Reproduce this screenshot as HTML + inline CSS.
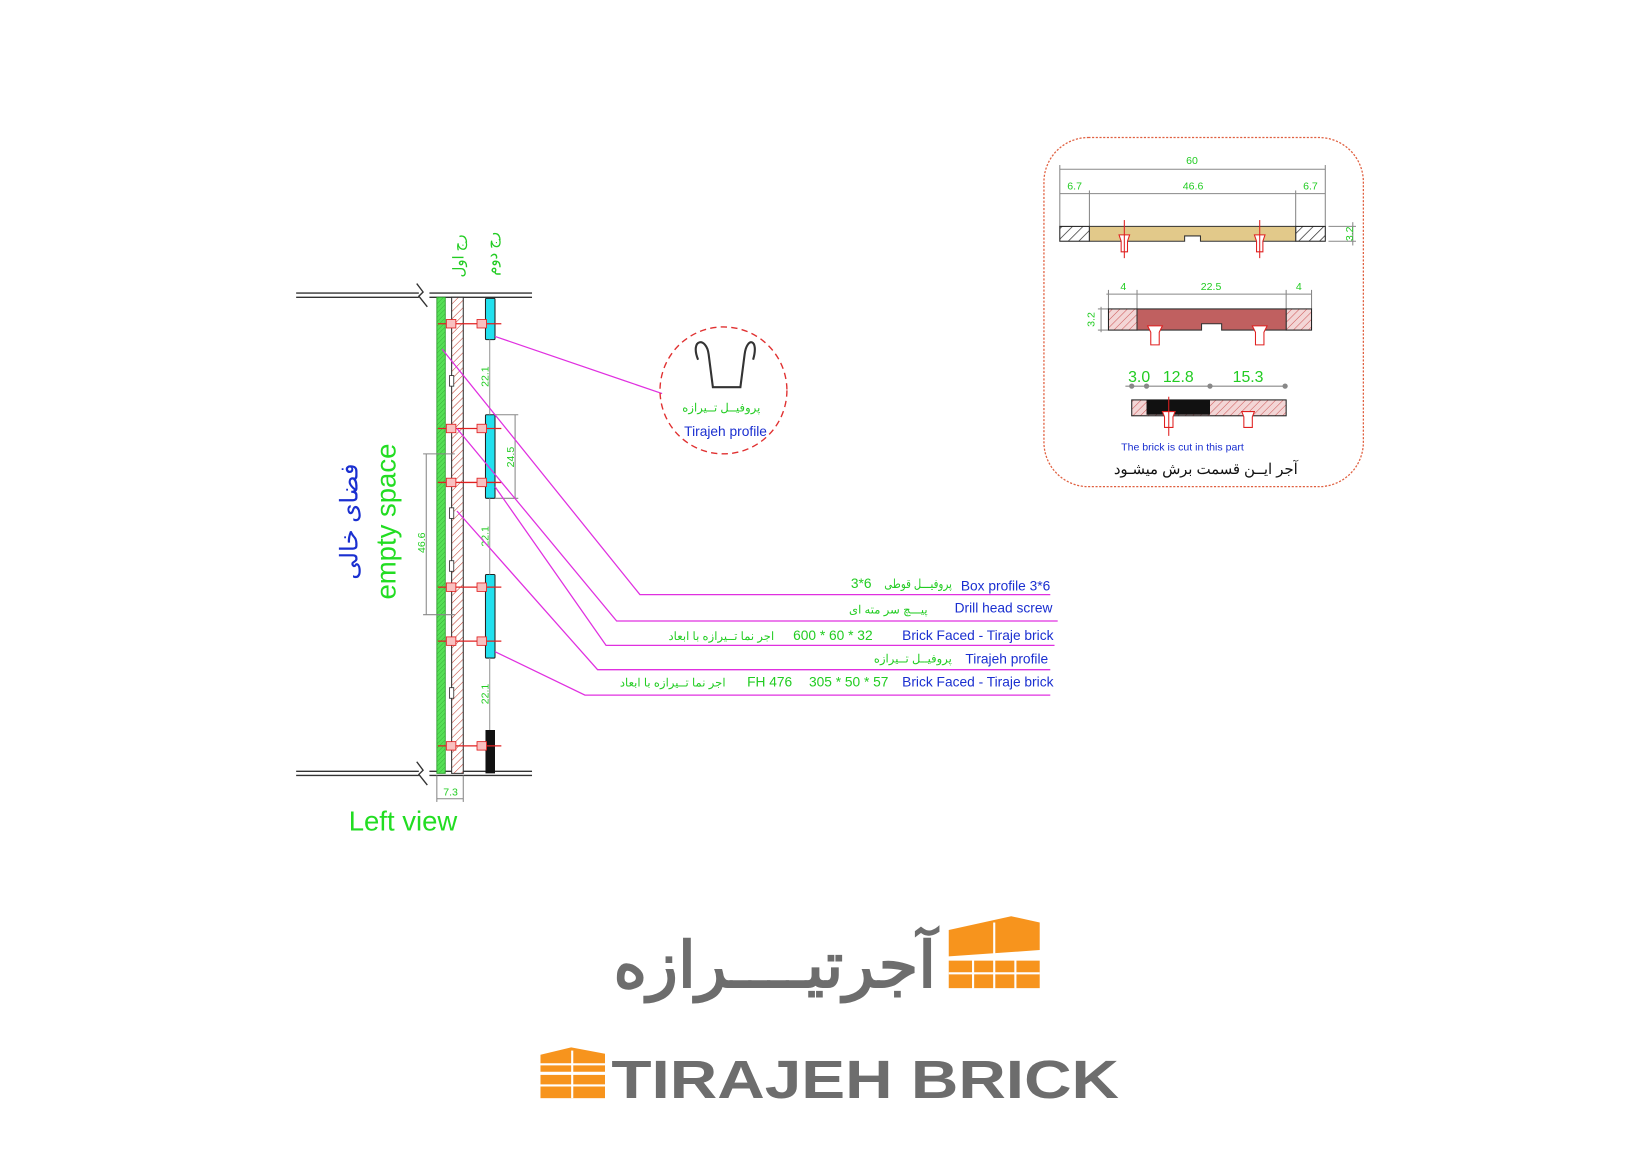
<!DOCTYPE html>
<html><head><meta charset="utf-8">
<style>
html,body{margin:0;padding:0;background:#fff;}
svg{display:block;}
text{font-family:"Liberation Sans","Noto Sans CJK SC",sans-serif;}
</style></head>
<body>
<svg width="1650" height="1168" viewBox="0 0 1560 1104" preserveAspectRatio="none" xmlns="http://www.w3.org/2000/svg">
<defs>
<pattern id="hb" width="5" height="5" patternUnits="userSpaceOnUse" patternTransform="rotate(45)"><rect width="5" height="5" fill="#fff"/><line x1="0" y1="0" x2="0" y2="5" stroke="#c0392b" stroke-width="1"/></pattern>
<pattern id="hk" width="7" height="7" patternUnits="userSpaceOnUse" patternTransform="rotate(45)"><rect width="7" height="7" fill="#fff"/><line x1="0" y1="0" x2="0" y2="7" stroke="#222" stroke-width="1.3"/></pattern>
<pattern id="hp" width="5" height="5" patternUnits="userSpaceOnUse" patternTransform="rotate(45)"><rect width="5" height="5" fill="#f3d6d6"/><line x1="0" y1="0" x2="0" y2="5" stroke="#c55" stroke-width="1"/></pattern>
<pattern id="hg" width="3" height="3" patternUnits="userSpaceOnUse" patternTransform="rotate(45)"><rect width="3" height="3" fill="#55e055"/><line x1="0" y1="0" x2="0" y2="3" stroke="#2a9a2a" stroke-width="0.6"/></pattern>
</defs>
<rect width="1560" height="1104" fill="#fff"/>

<g stroke="#333" stroke-width="1.3" fill="none">
<line x1="280" y1="277" x2="396" y2="277"/><line x1="280" y1="281" x2="396" y2="281"/>
<line x1="406" y1="277" x2="503" y2="277"/><line x1="406" y1="281" x2="503" y2="281"/>
<polyline points="394,268 400,276 396,280 404,290"/>
<line x1="280" y1="729" x2="396" y2="729"/><line x1="280" y1="733" x2="396" y2="733"/>
<line x1="406" y1="729" x2="503" y2="729"/><line x1="406" y1="733" x2="503" y2="733"/>
<polyline points="394,720 400,728 396,732 404,742"/>
</g>
<rect x="413" y="281" width="8" height="450" fill="url(#hg)" stroke="#2a9a2a" stroke-width="0.8"/>
<path d="M427,281 H438 V731 H427 Z" fill="url(#hb)" stroke="#333" stroke-width="1"/>
<g fill="#fff" stroke="#333" stroke-width="0.8">
<rect x="425" y="355" width="4" height="10"/><rect x="425" y="480" width="4" height="10"/><rect x="425" y="530" width="4" height="10"/><rect x="425" y="650" width="4" height="10"/>
</g>
<g fill="#22e0ee" stroke="#222" stroke-width="1">
<rect x="459" y="282" width="9" height="39" rx="1"/>
<rect x="459" y="392" width="9" height="79" rx="1"/>
<rect x="459" y="543" width="9" height="79" rx="1"/>
</g>
<rect x="459" y="690" width="9" height="41" fill="#111"/>
<g stroke="#999" stroke-width="1"><line x1="463" y1="321" x2="463" y2="392"/><line x1="463" y1="471" x2="463" y2="543"/><line x1="463" y1="622" x2="463" y2="690"/></g>
<g stroke="#e02020" stroke-width="1.2">
<line x1="414" y1="306" x2="474" y2="306"/><line x1="414" y1="405" x2="474" y2="405"/><line x1="414" y1="456" x2="474" y2="456"/>
<line x1="414" y1="555" x2="474" y2="555"/><line x1="414" y1="606" x2="474" y2="606"/><line x1="414" y1="705" x2="474" y2="705"/>
</g>
<g fill="#f9c0c0" stroke="#e02020" stroke-width="0.8">
<rect x="422" y="302" width="9" height="8"/><rect x="451" y="302" width="9" height="8"/>
<rect x="422" y="401" width="9" height="8"/><rect x="451" y="401" width="9" height="8"/>
<rect x="422" y="452" width="9" height="8"/><rect x="451" y="452" width="9" height="8"/>
<rect x="422" y="551" width="9" height="8"/><rect x="451" y="551" width="9" height="8"/>
<rect x="422" y="602" width="9" height="8"/><rect x="451" y="602" width="9" height="8"/>
<rect x="422" y="701" width="9" height="8"/><rect x="451" y="701" width="9" height="8"/>
</g>
<g stroke="#888" stroke-width="1" fill="none">
<line x1="403" y1="429" x2="403" y2="581"/><line x1="400" y1="429" x2="430" y2="429"/><line x1="400" y1="581" x2="430" y2="581"/>
<line x1="487" y1="392" x2="487" y2="471"/><line x1="468" y1="392" x2="490" y2="392"/><line x1="468" y1="471" x2="490" y2="471"/>
<line x1="413" y1="755" x2="438" y2="755"/><line x1="413" y1="733" x2="413" y2="758"/><line x1="438" y1="733" x2="438" y2="758"/>
</g>
<g fill="#22cc22" font-size="10">
<text transform="translate(402,513) rotate(-90)" text-anchor="middle">46.6</text>
<text transform="translate(486,432) rotate(-90)" text-anchor="middle">24.5</text>
<text transform="translate(462,356) rotate(-90)" text-anchor="middle">22.1</text>
<text transform="translate(462,507) rotate(-90)" text-anchor="middle">22.1</text>
<text transform="translate(462,656) rotate(-90)" text-anchor="middle">22.1</text>
<text x="426" y="752" text-anchor="middle">7.3</text>
<text transform="translate(438,242) rotate(-90)" text-anchor="middle" font-size="14">رج اول</text>
<text transform="translate(470,240) rotate(-90)" text-anchor="middle" font-size="14">رج دوم</text>
</g>
<text transform="translate(374,493) rotate(-90)" text-anchor="middle" font-size="26" fill="#22dd22">empty space</text>
<text transform="translate(338,493) rotate(-90)" text-anchor="middle" font-size="23" fill="#1a2fd0">فضای خالی</text>
<text x="381" y="785" text-anchor="middle" font-size="26" fill="#22dd22">Left view</text>

<g stroke="#e030e0" stroke-width="1.2" fill="none">
<line x1="468" y1="318" x2="626" y2="372"/>
<polyline points="418,330 605,562 993,562"/>
<polyline points="432,405 583,587 1000,587"/>
<polyline points="468,460 573,610 997,610"/>
<polyline points="432,483 565,633 993,633"/>
<polyline points="468,616 553,657 993,657"/>
</g>
<g font-size="13">
<text x="993" y="558" text-anchor="end" fill="#1a2fd0">Box profile 3*6</text>
<text x="836" y="556" fill="#22cc22" font-size="12" textLength="64" lengthAdjust="spacingAndGlyphs">پروفیـــل قوطی</text>
<text x="824" y="556" text-anchor="end" fill="#22cc22" font-size="13">3*6</text>
<text x="995" y="579" text-anchor="end" fill="#1a2fd0">Drill head screw</text>
<text x="877" y="580" text-anchor="end" fill="#22cc22" font-size="11">پیـــچ سر مته ای</text>
<text x="996" y="605" text-anchor="end" fill="#1a2fd0">Brick Faced - Tiraje brick</text>
<text x="825" y="605" text-anchor="end" fill="#22cc22">600 * 60 * 32</text>
<text x="732" y="605" text-anchor="end" fill="#22cc22" font-size="11">اجر نما تــیرازه با ابعاد</text>
<text x="991" y="627" text-anchor="end" fill="#1a2fd0">Tirajeh profile</text>
<text x="900" y="626" text-anchor="end" fill="#22cc22" font-size="11">پروفیــل تــیرازه</text>
<text x="996" y="649" text-anchor="end" fill="#1a2fd0">Brick Faced - Tiraje brick</text>
<text x="840" y="649" text-anchor="end" fill="#22cc22">305 * 50 * 57</text>
<text x="749" y="649" text-anchor="end" fill="#22cc22">FH 476</text>
<text x="686" y="649" text-anchor="end" fill="#22cc22" font-size="11">اجر نما تــیرازه با ابعاد</text>
</g>

<circle cx="684" cy="369" r="60" fill="none" stroke="#e03030" stroke-width="1.3" stroke-dasharray="6,4"/>
<path d="M660,340 C652,320 668,318 670,335 L674,366 H700 L704,335 C706,318 718,320 712,340" fill="none" stroke="#333" stroke-width="2"/>
<text x="682" y="389" text-anchor="middle" font-size="11" fill="#22cc22">پروفیــل تــیرازه</text>
<text x="686" y="412" text-anchor="middle" font-size="13" fill="#1a2fd0">Tirajeh profile</text>

<rect x="987" y="130" width="302" height="330" rx="42" fill="none" stroke="#e06040" stroke-width="1.2" stroke-dasharray="2,1.5"/>
<g stroke="#888" stroke-width="1" fill="none">
<line x1="1002" y1="160" x2="1253" y2="160"/><line x1="1002" y1="183" x2="1253" y2="183"/>
<line x1="1002" y1="156" x2="1002" y2="214"/><line x1="1253" y1="156" x2="1253" y2="214"/>
<line x1="1030" y1="180" x2="1030" y2="214"/><line x1="1225" y1="180" x2="1225" y2="214"/>
<line x1="1256" y1="214" x2="1282" y2="214"/><line x1="1256" y1="228" x2="1282" y2="228"/><line x1="1279" y1="210" x2="1279" y2="232"/>
<line x1="1046" y1="278" x2="1240" y2="278"/>
<line x1="1048" y1="274" x2="1048" y2="292"/><line x1="1075" y1="274" x2="1075" y2="292"/><line x1="1216" y1="274" x2="1216" y2="292"/><line x1="1240" y1="274" x2="1240" y2="292"/>
<line x1="1038" y1="292" x2="1048" y2="292"/><line x1="1038" y1="312" x2="1048" y2="312"/><line x1="1041" y1="290" x2="1041" y2="314"/>
<line x1="1064" y1="365" x2="1217" y2="365"/>
</g>
<g fill="#888"><circle cx="1070" cy="365" r="2.5"/><circle cx="1084" cy="365" r="2.5"/><circle cx="1144" cy="365" r="2.5"/><circle cx="1215" cy="365" r="2.5"/></g>
<rect x="1002" y="214" width="28" height="14" fill="url(#hk)" stroke="#222"/>
<rect x="1225" y="214" width="28" height="14" fill="url(#hk)" stroke="#222"/>
<path d="M1030,214 H1225 V228 H1135 V223 H1120 V228 H1030 Z" fill="#e2c98a" stroke="#333"/>
<rect x="1048" y="292" width="27" height="20" fill="url(#hp)" stroke="#222"/>
<rect x="1216" y="292" width="24" height="20" fill="url(#hp)" stroke="#222"/>
<path d="M1075,292 H1216 V312 H1155 V306 H1136 V312 H1075 Z" fill="#c06060" stroke="#333"/>
<rect x="1070" y="378" width="146" height="15" fill="url(#hp)" stroke="#222"/>
<rect x="1084" y="378" width="60" height="14" fill="#111"/>
<g fill="#fff" stroke="#e02020" stroke-width="1">
<path d="M1058,222 h10 l-2,6 v10 h-6 v-10 z"/><path d="M1186,222 h10 l-2,6 v10 h-6 v-10 z"/>
<path d="M1085,308 h14 l-3,6 v12 h-8 v-12 z"/><path d="M1184,308 h14 l-3,6 v12 h-8 v-12 z"/>
<path d="M1099,389 h12 l-2,5 v10 h-8 v-10 z"/><path d="M1174,389 h12 l-2,5 v10 h-8 v-10 z"/>
</g>
<g stroke="#e02020" stroke-width="1"><line x1="1063" y1="208" x2="1063" y2="244"/><line x1="1191" y1="208" x2="1191" y2="244"/><line x1="1105" y1="375" x2="1105" y2="412"/></g>
<g fill="#22cc22" font-size="10" text-anchor="middle">
<text x="1127" y="155">60</text><text x="1016" y="179">6.7</text><text x="1128" y="179">46.6</text><text x="1239" y="179">6.7</text>
<text transform="translate(1279,221) rotate(-90)">3.2</text>
<text x="1062" y="274">4</text><text x="1145" y="274">22.5</text><text x="1228" y="274">4</text>
<text transform="translate(1035,302) rotate(-90)">3.2</text>
<text x="1077" y="361" font-size="15">3.0</text><text x="1114" y="361" font-size="15">12.8</text><text x="1180" y="361" font-size="15">15.3</text>
</g>
<text x="1118" y="426" text-anchor="middle" font-size="10" fill="#1a2fd0">The brick is cut in this part</text>
<text x="1140" y="448" text-anchor="middle" font-size="14" fill="#111">آجر ایــن قسمت برش  میشـود</text>

<g fill="#f7941d">
<path d="M897,879 L956,866 L983,872 V898 L897,904 Z"/>
<rect x="897" y="908" width="86" height="26"/>
</g>
<g stroke="#fff" stroke-width="2"><line x1="940" y1="872" x2="940" y2="935"/><line x1="920" y1="906" x2="920" y2="935"/><line x1="960" y1="906" x2="960" y2="935"/><line x1="897" y1="920" x2="983" y2="920"/></g>
<text x="885" y="933" text-anchor="end" font-size="60" font-weight="bold" fill="#6d6d6d" textLength="305" lengthAdjust="spacingAndGlyphs" font-family="'Noto Sans CJK SC','DejaVu Sans',sans-serif">آجرتیــــرازه</text>
<g fill="#f7941d">
<path d="M511,997 L540,990 L572,996 V1013 H511 Z"/>
<rect x="511" y="1016" width="61" height="22"/>
</g>
<g stroke="#fff" stroke-width="2"><line x1="511" y1="1006" x2="572" y2="1006"/><line x1="511" y1="1026" x2="572" y2="1026"/><line x1="541" y1="993" x2="541" y2="1038"/></g>
<text x="578" y="1038" font-size="51" font-weight="bold" fill="#6d6d6d" textLength="480" lengthAdjust="spacingAndGlyphs" font-family="'Liberation Sans',sans-serif">TIRAJEH BRICK</text>
</svg>
</body></html>
